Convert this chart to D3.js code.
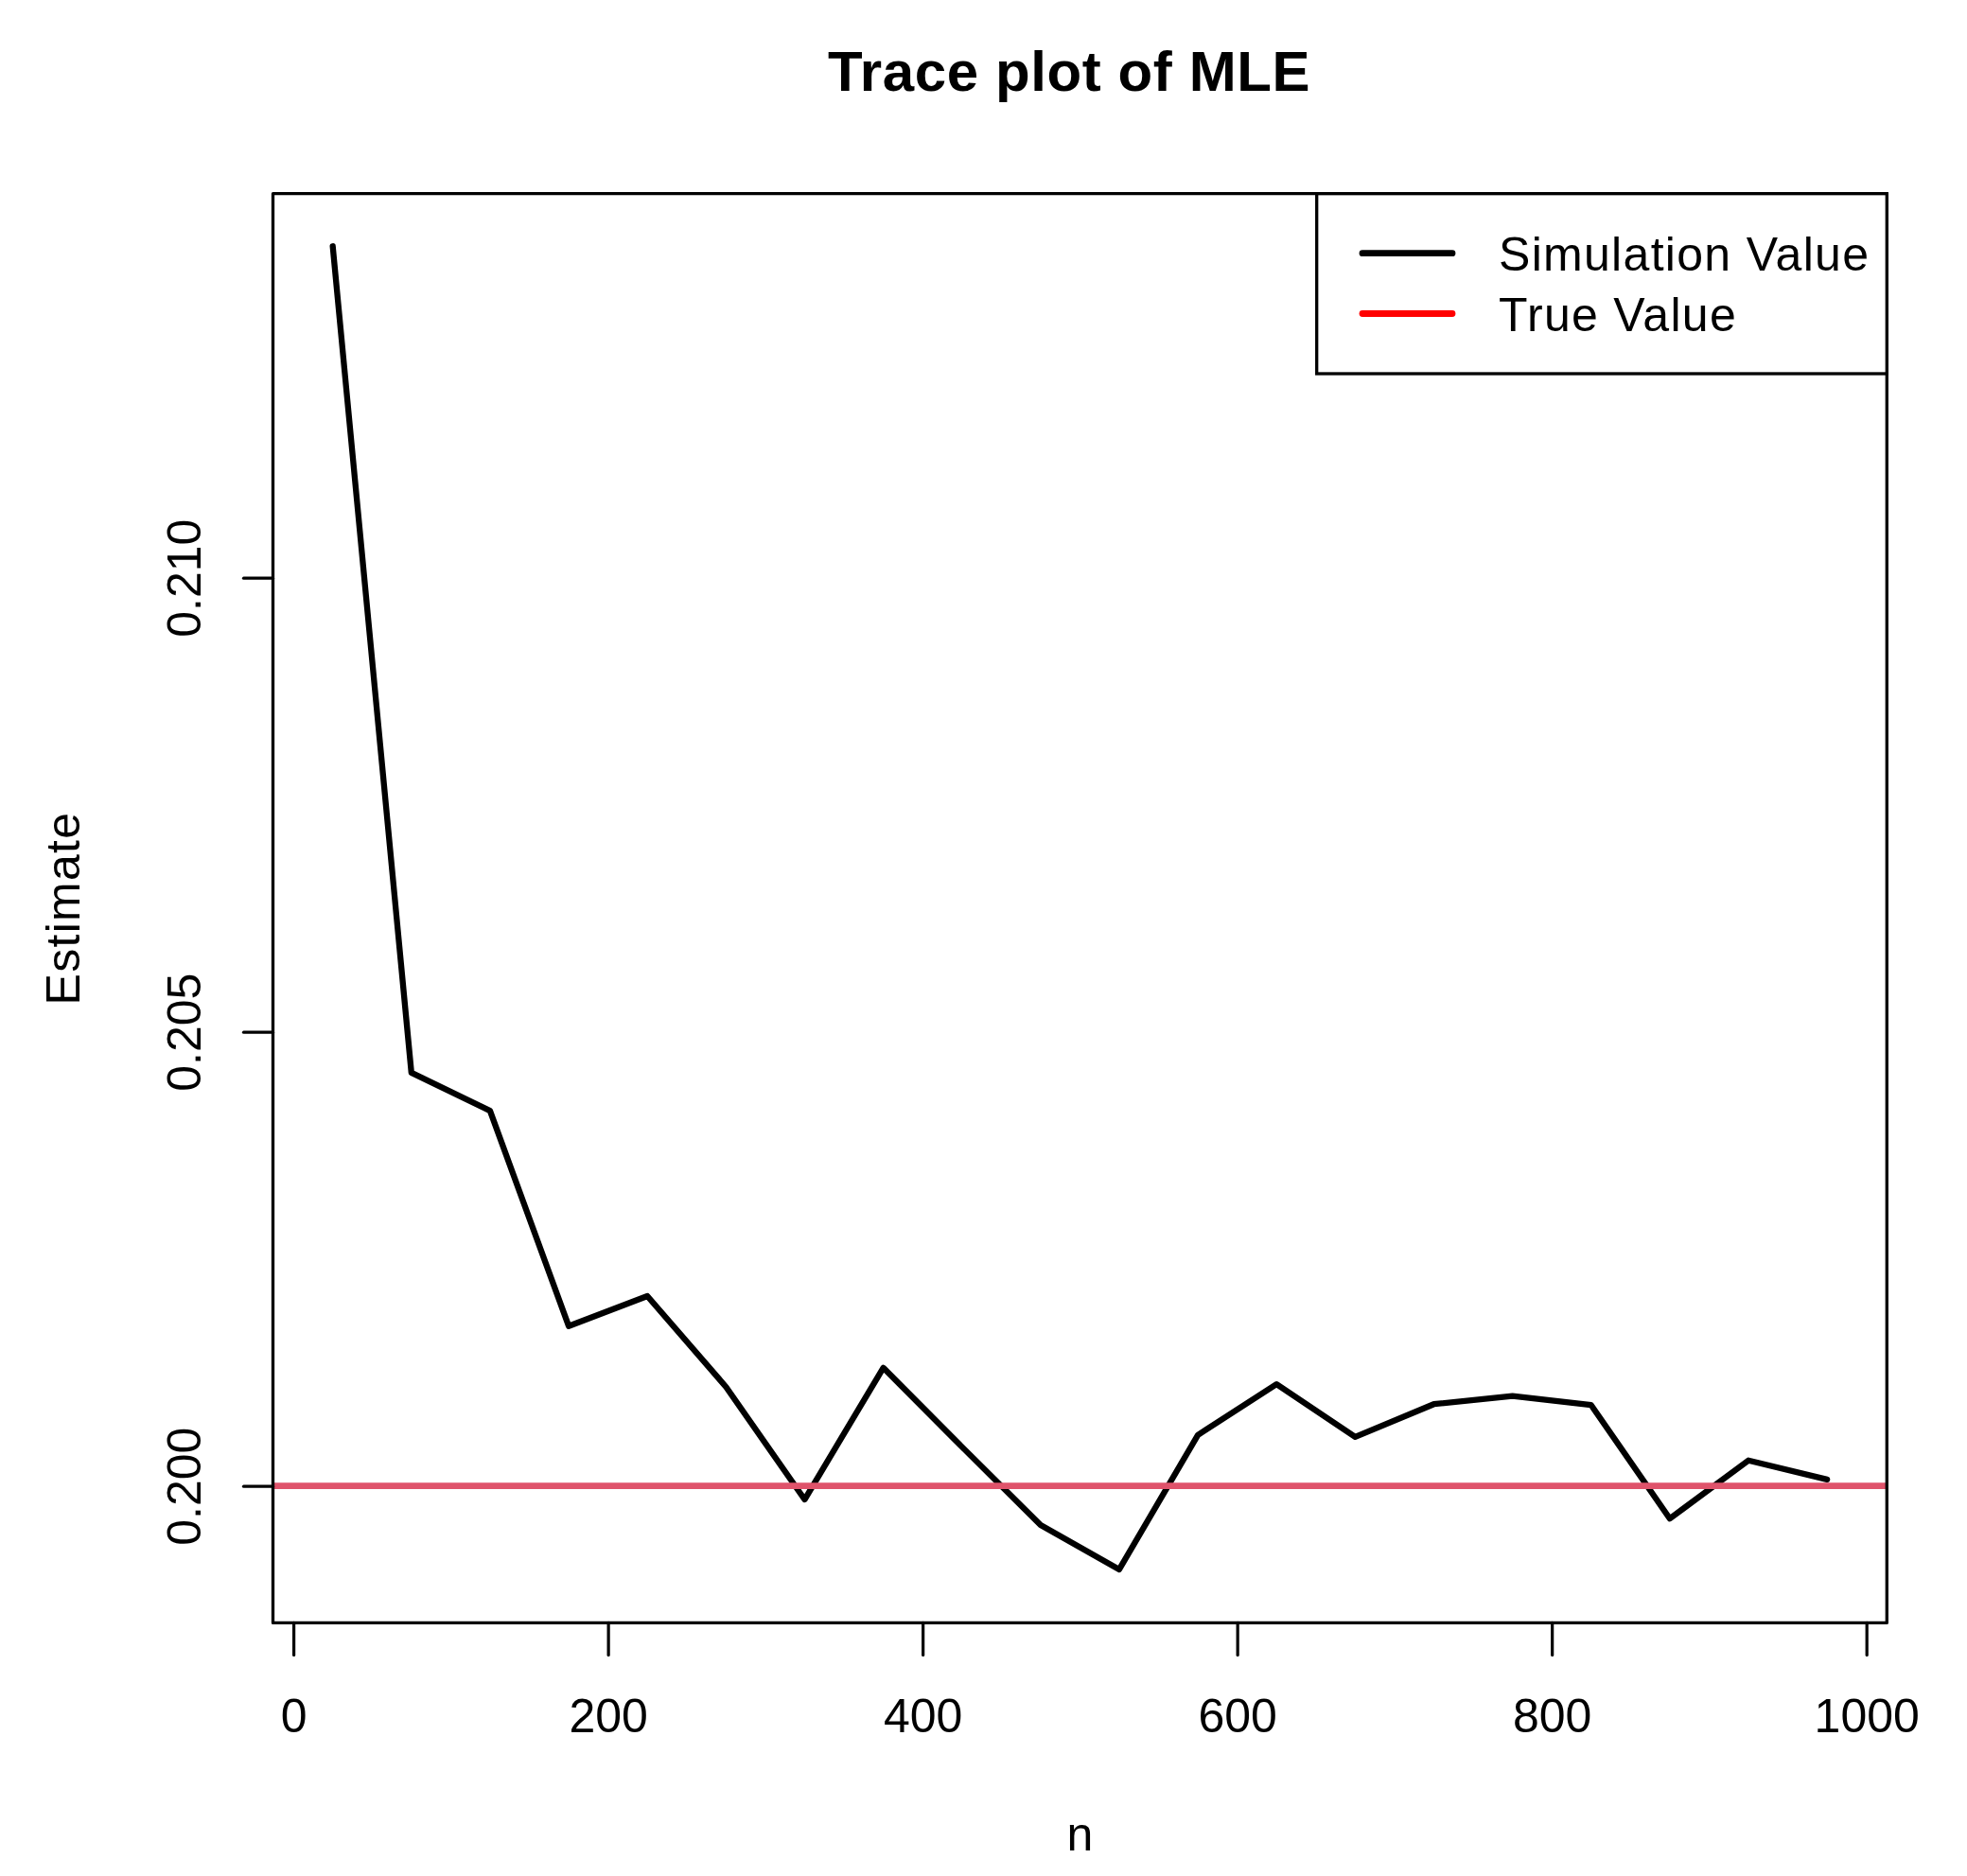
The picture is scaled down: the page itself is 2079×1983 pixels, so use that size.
<!DOCTYPE html>
<html>
<head>
<meta charset="utf-8">
<script src="https://cdn.jsdelivr.net/npm/d3@7"></script>
<style>
  html, body { margin: 0; padding: 0; background: #ffffff; }
  svg { display: block; }
  text { font-family: "Liberation Sans", Arial, Helvetica, sans-serif; fill: #000; }
</style>
</head>
<body>
<svg id="chart" width="2079" height="1983"></svg>
<script>
// ---- data ----
const sampleSizes = [25, 75, 125, 175, 225, 275, 325, 375, 425, 475, 525, 575, 625, 675, 725, 775, 825, 875, 925, 975];
const estimates = [0.21365, 0.20455, 0.20413, 0.20176, 0.20209, 0.20109, 0.19985, 0.20130, 0.20043, 0.19957,
                   0.19908, 0.20056, 0.20112, 0.20054, 0.20090, 0.20099, 0.20089, 0.19964, 0.20028, 0.20007];
const trueValue = 0.2;
const xTicks = [0, 200, 400, 600, 800, 1000];
const yTicks = [0.200, 0.205, 0.210];
const yTickLabels = ["0.200", "0.205", "0.210"];
const legendLabels = ["Simulation Value", "True Value"];
const legendColors = ["#000000", "#FF0000"];
const titleText = "Trace plot of MLE";
const xLabel = "n";
const yLabel = "Estimate";

// ---- layout ----
const plot = { left: 288.5, right: 1994.3, top: 204.7, bottom: 1715.4 };
const svg = d3.select("#chart");

// R-style 4% axis extension
const xExt = d3.extent(sampleSizes);
const xPad = (xExt[1] - xExt[0]) * 0.04;
const x = d3.scaleLinear().domain([xExt[0] - xPad, xExt[1] + xPad]).range([plot.left, plot.right]);
const yDomain = [0.198492, 0.214229];
const y = d3.scaleLinear().domain(yDomain).range([plot.bottom, plot.top]);

// ---- data line ----
const line = d3.line().x((d, i) => x(sampleSizes[i])).y(d => y(d));
svg.append("path")
  .datum(estimates)
  .attr("d", line)
  .attr("fill", "none")
  .attr("stroke", "#000")
  .attr("stroke-width", 6.3)
  .attr("stroke-linejoin", "round")
  .attr("stroke-linecap", "round");

// ---- true value line ----
svg.append("line")
  .attr("x1", plot.left).attr("x2", plot.right)
  .attr("y1", y(trueValue)).attr("y2", y(trueValue))
  .attr("stroke", "#DF536B")
  .attr("stroke-width", 6.8);

// ---- axes ----
const xAxis = d3.axisBottom(x).tickValues(xTicks).tickSize(34).tickPadding(0).tickFormat(d3.format("d"));
const gx = svg.append("g").attr("transform", `translate(0,${plot.bottom})`).call(xAxis);
gx.select(".domain").remove();
gx.selectAll(".tick line").attr("stroke", "#000").attr("stroke-width", 3.2).attr("stroke-linecap", "round");
gx.selectAll(".tick text")
  .attr("y", 116).attr("dy", null)
  .style("font-size", "50px").style("font-family", '"Liberation Sans", Arial, sans-serif');

const yAxis = d3.axisLeft(y).tickValues(yTicks).tickSize(31).tickPadding(0)
  .tickFormat((d, i) => yTickLabels[i]);
const gy = svg.append("g").attr("transform", `translate(${plot.left},0)`).call(yAxis);
gy.select(".domain").remove();
gy.selectAll(".tick line").attr("stroke", "#000").attr("stroke-width", 3.2).attr("stroke-linecap", "round");
gy.selectAll(".tick text")
  .attr("x", null).attr("dy", null)
  .attr("text-anchor", "middle")
  .attr("transform", `translate(${212 - plot.left},0) rotate(-90)`)
  .style("font-size", "50px").style("font-family", '"Liberation Sans", Arial, sans-serif');

// ---- box ----
svg.append("rect")
  .attr("x", plot.left).attr("y", plot.top)
  .attr("width", plot.right - plot.left).attr("height", plot.bottom - plot.top)
  .attr("fill", "none").attr("stroke", "#000").attr("stroke-width", 3.3)
  .attr("stroke-linejoin", "round");

// ---- legend ----
const legend = { left: 1391.7, top: plot.top, right: plot.right, bottom: 395 };
svg.append("rect")
  .attr("x", legend.left).attr("y", legend.top)
  .attr("width", legend.right - legend.left).attr("height", legend.bottom - legend.top)
  .attr("fill", "#fff").attr("stroke", "#000").attr("stroke-width", 3.3);
const rowY = [267.7, 331.5];
legendLabels.forEach((lab, i) => {
  svg.append("line")
    .attr("x1", 1440).attr("x2", 1535)
    .attr("y1", rowY[i]).attr("y2", rowY[i])
    .attr("stroke", legendColors[i]).attr("stroke-width", 6.8).attr("stroke-linecap", "round");
  svg.append("text")
    .attr("x", 1584).attr("y", rowY[i] + 18)
    .style("font-size", "50px")
    .style("letter-spacing", "1.3px")
    .text(lab);
});

// ---- title & labels ----
svg.append("text")
  .attr("x", 1130).attr("y", 96)
  .attr("text-anchor", "middle")
  .style("font-size", "60px").style("font-weight", "bold")
  .style("letter-spacing", "0.6px")
  .text(titleText);
svg.append("text")
  .attr("x", (plot.left + plot.right) / 2).attr("y", 1956)
  .attr("text-anchor", "middle")
  .style("font-size", "50px")
  .text(xLabel);
svg.append("text")
  .attr("transform", `translate(84,${(plot.top + plot.bottom) / 2}) rotate(-90)`)
  .attr("text-anchor", "middle")
  .style("font-size", "50px")
  .style("letter-spacing", "1.3px")
  .text(yLabel);
</script>
</body>
</html>
